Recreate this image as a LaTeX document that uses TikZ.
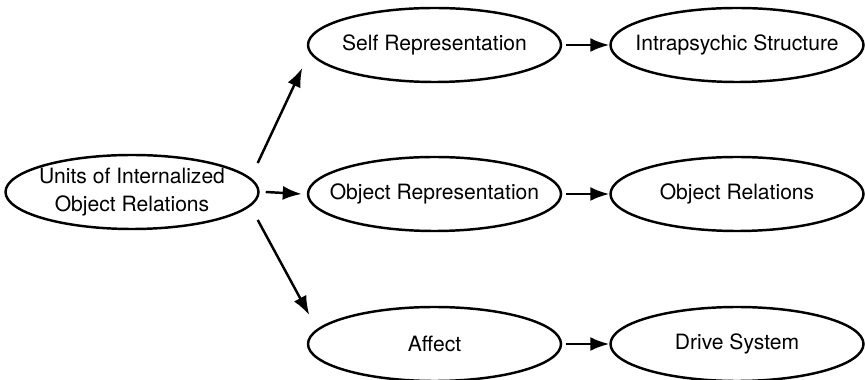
\documentclass[tikz,border=0pt]{standalone}
\usepackage{fontspec}
\setmainfont{TeX Gyre Heros}
\usetikzlibrary{shapes.geometric,arrows.meta,positioning}

\begin{document}
\begin{tikzpicture}[node distance=6.05cm,line width=1.4pt,
  blob/.style={ellipse,draw,minimum width=5.06cm,minimum height=1.48cm,
    inner xsep=-1.2cm,inner ysep=0pt,align=center,font=\fontsize{12}{16}\selectfont},
  arr/.style={-{Latex[length=3.8mm,width=2.8mm]}}]

\useasboundingbox (-2.64,-3.76) rectangle (14.66,3.84);

\node[blob](units){Units of Internalized\\Object Relations};
\node[blob](objrep)[right of=units,yshift=-0.04cm]{Object Representation};
\node[blob](objrel)[right of=objrep]{Object Relations};
\node[blob](self)[above of=objrep,node distance=2.98cm]{Self Representation};
\node[blob](intra)[right of=self]{Intrapsychic Structure};
\node[blob](affect)[below of=objrep,node distance=3cm]{Affect};
\node[blob](drive)[right of=affect]{Drive System};

\draw[arr] ([xshift=-0.04cm,yshift=0.58cm]units.east) -- ([xshift=-0.09cm,yshift=-0.46cm]self.west);
\draw[arr] ([xshift=0.12cm]units.east) -- ([xshift=-0.1cm]objrep.west);
\draw[arr] ([xshift=-0.04cm,yshift=-0.56cm]units.east) -- ([xshift=0.05cm,yshift=0.58cm]affect.west);

\path[arr,shorten <=0.08cm]
     (self)edge(intra)
     (objrep)edge(objrel)
     (affect)edge(drive);

\end{tikzpicture}
\end{document}
